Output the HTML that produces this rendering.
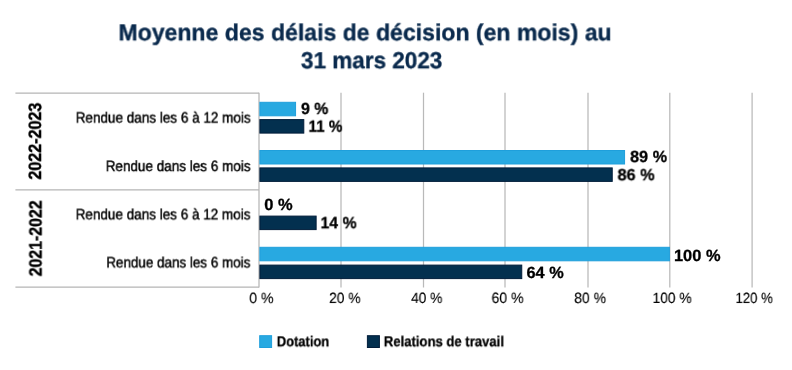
<!DOCTYPE html>
<html><head><meta charset="utf-8"><style>
html,body{margin:0;padding:0;background:#fff;}
body{width:792px;height:370px;position:relative;overflow:hidden;font-family:"Liberation Sans",sans-serif;}
svg{position:absolute;left:0;top:0;}
.t{position:absolute;left:0;top:0;white-space:nowrap;line-height:1;transform-origin:0 0;text-rendering:geometricPrecision;will-change:transform;}
</style></head><body>
<svg class="r" width="792" height="370" viewBox="0 0 792 370">
<line x1="15.4" y1="93.2" x2="259.0" y2="93.2" stroke="#b5b5b5" stroke-width="1.25"/>
<line x1="15.4" y1="189.85" x2="259.0" y2="189.85" stroke="#b5b5b5" stroke-width="1.25"/>
<line x1="15.4" y1="287.0" x2="259.0" y2="287.0" stroke="#b5b5b5" stroke-width="1.25"/>
<line x1="259.0" y1="92.7" x2="259.0" y2="287.5" stroke="#b5b5b5" stroke-width="1.25"/>
<line x1="341.0" y1="92.7" x2="341.0" y2="287.5" stroke="#b9b9b9" stroke-width="1.25"/>
<line x1="423.5" y1="92.7" x2="423.5" y2="287.5" stroke="#b9b9b9" stroke-width="1.25"/>
<line x1="505.0" y1="92.7" x2="505.0" y2="287.5" stroke="#b9b9b9" stroke-width="1.25"/>
<line x1="588.0" y1="92.7" x2="588.0" y2="287.5" stroke="#b9b9b9" stroke-width="1.25"/>
<line x1="669.8" y1="92.7" x2="669.8" y2="287.5" stroke="#b9b9b9" stroke-width="1.25"/>
<line x1="752.1" y1="92.7" x2="752.1" y2="287.5" stroke="#b9b9b9" stroke-width="1.25"/>
<rect x="259.90" y="102.30" width="35.66" height="13.50" fill="#28a9e1" stroke="#1f9fdb" stroke-width="1"/>
<rect x="259.90" y="150.50" width="364.66" height="13.50" fill="#28a9e1" stroke="#1f9fdb" stroke-width="1"/>
<rect x="259.90" y="247.30" width="409.50" height="13.50" fill="#28a9e1" stroke="#1f9fdb" stroke-width="1"/>
<rect x="259.90" y="119.60" width="43.89" height="13.50" fill="#03304f" stroke="#021d3a" stroke-width="1"/>
<rect x="259.90" y="167.90" width="352.33" height="13.50" fill="#03304f" stroke="#021d3a" stroke-width="1"/>
<rect x="259.90" y="216.10" width="56.23" height="13.50" fill="#03304f" stroke="#021d3a" stroke-width="1"/>
<rect x="259.90" y="265.10" width="261.85" height="13.50" fill="#03304f" stroke="#021d3a" stroke-width="1"/>
<rect x="259.70" y="335.70" width="11.90" height="11.80" fill="#28a9e1" stroke="#1f9fdb" stroke-width="1"/>
<rect x="367.40" y="335.70" width="12.00" height="11.80" fill="#03304f" stroke="#021d3a" stroke-width="1"/>
</svg>
<div class="t" style="font-size:23.16px;font-weight:bold;color:#0a2a4d;transform:translate(118.50px,21.31px) scaleX(0.9954);-webkit-text-stroke:0.35px #0a2a4d">Moyenne des délais de décision (en mois) au</div>
<div class="t" style="font-size:23.16px;font-weight:bold;color:#0a2a4d;transform:translate(300.90px,49.25px) scaleX(0.9725);-webkit-text-stroke:0.35px #0a2a4d">31 mars 2023</div>
<div class="t" style="font-size:15.00px;font-weight:normal;color:#000;transform:translate(75.66px,110.58px) scaleX(0.9011);-webkit-text-stroke:0.45px #000">Rendue dans les 6 à 12 mois</div>
<div class="t" style="font-size:15.00px;font-weight:normal;color:#000;transform:translate(105.68px,159.08px) scaleX(0.9002);-webkit-text-stroke:0.45px #000">Rendue dans les 6 mois</div>
<div class="t" style="font-size:15.00px;font-weight:normal;color:#000;transform:translate(75.63px,207.35px) scaleX(0.9003);-webkit-text-stroke:0.45px #000">Rendue dans les 6 à 12 mois</div>
<div class="t" style="font-size:15.00px;font-weight:normal;color:#000;transform:translate(106.28px,255.40px) scaleX(0.8952);-webkit-text-stroke:0.45px #000">Rendue dans les 6 mois</div>
<div class="t" style="font-size:18.00px;font-weight:bold;color:#000;transform:translate(26.04px,179.63px) rotate(-90deg) scaleX(0.8948);-webkit-text-stroke:0.35px #000">2022-2023</div>
<div class="t" style="font-size:18.00px;font-weight:bold;color:#000;transform:translate(26.61px,276.37px) rotate(-90deg) scaleX(0.8833);-webkit-text-stroke:0.35px #000">2021-2022</div>
<div class="t" style="font-size:16.30px;font-weight:bold;color:#000;transform:translate(301.00px,101.03px) scaleX(0.9759);-webkit-text-stroke:0.3px #000">9 %</div>
<div class="t" style="font-size:16.30px;font-weight:bold;color:#000;transform:translate(308.47px,118.69px) scaleX(0.9368);-webkit-text-stroke:0.3px #000">11 %</div>
<div class="t" style="font-size:16.30px;font-weight:bold;color:#000;transform:translate(630.10px,149.04px) scaleX(0.9934);-webkit-text-stroke:0.3px #000">89 %</div>
<div class="t" style="font-size:16.30px;font-weight:bold;color:#000;transform:translate(617.56px,167.23px) scaleX(0.9956);-webkit-text-stroke:0.3px #000">86 %</div>
<div class="t" style="font-size:16.30px;font-weight:bold;color:#000;transform:translate(264.23px,196.80px) scaleX(1.0107);-webkit-text-stroke:0.3px #000">0 %</div>
<div class="t" style="font-size:16.30px;font-weight:bold;color:#000;transform:translate(320.52px,215.20px) scaleX(0.9697);-webkit-text-stroke:0.3px #000">14 %</div>
<div class="t" style="font-size:16.30px;font-weight:bold;color:#000;transform:translate(673.96px,247.86px) scaleX(1.0073);-webkit-text-stroke:0.3px #000">100 %</div>
<div class="t" style="font-size:16.30px;font-weight:bold;color:#000;transform:translate(526.44px,265.19px) scaleX(1.0028);-webkit-text-stroke:0.3px #000">64 %</div>
<div class="t" style="font-size:14.90px;font-weight:normal;color:#000;transform:translate(249.22px,292.08px) scaleX(0.9431);-webkit-text-stroke:0.15px #000">0 %</div>
<div class="t" style="font-size:14.90px;font-weight:normal;color:#000;transform:translate(329.14px,292.05px) scaleX(0.9237);-webkit-text-stroke:0.15px #000">20 %</div>
<div class="t" style="font-size:14.90px;font-weight:normal;color:#000;transform:translate(411.10px,291.97px) scaleX(0.9190);-webkit-text-stroke:0.15px #000">40 %</div>
<div class="t" style="font-size:14.90px;font-weight:normal;color:#000;transform:translate(491.50px,291.93px) scaleX(0.9445);-webkit-text-stroke:0.15px #000">60 %</div>
<div class="t" style="font-size:14.90px;font-weight:normal;color:#000;transform:translate(574.19px,292.03px) scaleX(0.9369);-webkit-text-stroke:0.15px #000">80 %</div>
<div class="t" style="font-size:14.90px;font-weight:normal;color:#000;transform:translate(652.57px,291.99px) scaleX(0.9243);-webkit-text-stroke:0.15px #000">100 %</div>
<div class="t" style="font-size:14.90px;font-weight:normal;color:#000;transform:translate(735.54px,292.06px) scaleX(0.8808);-webkit-text-stroke:0.15px #000">120 %</div>
<div class="t" style="font-size:14.45px;font-weight:bold;color:#000;transform:translate(276.81px,335.29px) scaleX(0.8935);-webkit-text-stroke:0.3px #000">Dotation</div>
<div class="t" style="font-size:14.45px;font-weight:bold;color:#000;transform:translate(383.77px,335.31px) scaleX(0.9077);-webkit-text-stroke:0.3px #000">Relations de travail</div>
</body></html>
